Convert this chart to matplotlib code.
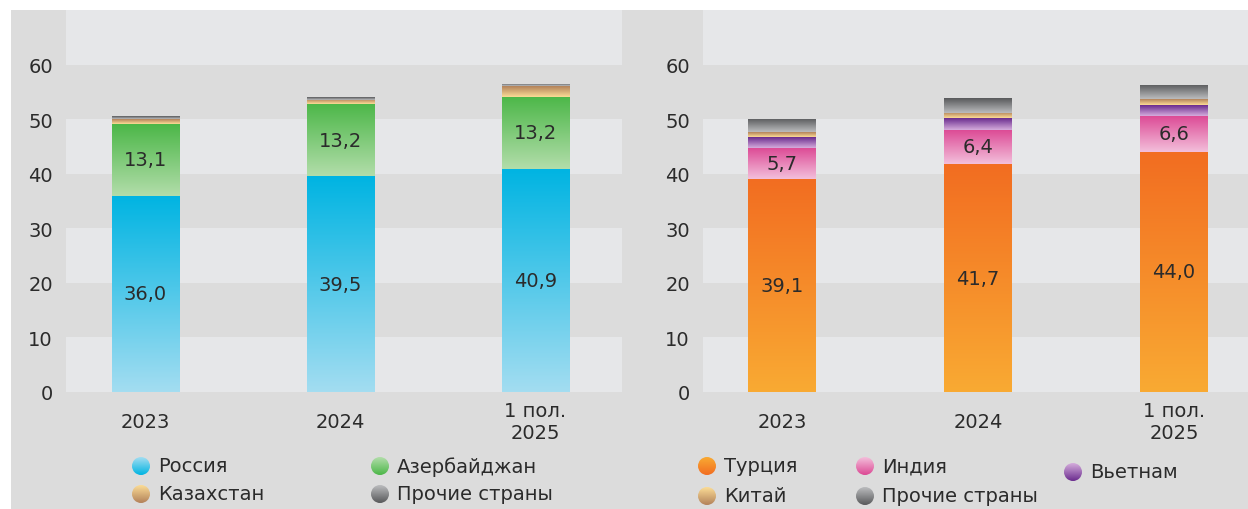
import numpy as np
import matplotlib.pyplot as plt
from matplotlib.colors import LinearSegmentedColormap
from matplotlib.patches import Rectangle, Circle

# categories
years = ["2023", "2024", "1 пол.\n2025"]

# left panel
russia = [36.0, 39.5, 40.9]
azerbaijan = [13.1, 13.2, 13.2]
kazakhstan = [0.9, 0.8, 1.9]
other_left = [0.5, 0.5, 0.5]

# right panel
turkey = [39.1, 41.7, 44.0]
india = [5.7, 6.4, 6.6]
vietnam = [2.0, 2.1, 2.0]
china = [0.8, 1.0, 1.0]
other_right = [2.5, 2.6, 2.7]

yticks = [0, 10, 20, 30, 40, 50, 60]

# (dark top, light bottom)
C_RUS = ("#00b4e2", "#a3ddf1")
C_AZE = ("#4cb748", "#b2ddaa")
C_KAZ = ("#b3825a", "#fbdc96")
C_OTH = ("#58595b", "#bbbcbe")
C_TUR = ("#f26d21", "#f9aa33")
C_IND = ("#dc4894", "#f3bfdb")
C_VIE = ("#6a2c8e", "#d5acdc")

BG = "#dcdcdc"
BAND = "#e6e7e9"
TXT = "#2b2b2b"
FS = 14

plt.rcParams['font.family'] = ['DejaVu Sans']


def gradient_fill(ax, patch, dark, light, top_dark=True):
    cmap = LinearSegmentedColormap.from_list("g", [light, dark])
    x0, y0 = patch.get_x(), patch.get_y()
    w, h = patch.get_width(), patch.get_height()
    arr = np.linspace(0, 1, 128).reshape(-1, 1)
    if not top_dark:
        arr = arr[::-1]
    im = ax.imshow(arr, cmap=cmap, origin='lower', aspect='auto',
                   extent=(x0, x0 + w, y0, y0 + h), zorder=3,
                   interpolation='bilinear')
    im.set_clip_path(patch)


def stacked_panel(ax, series, labelled, xlim):
    x = np.arange(len(years))
    bottom = np.zeros(len(years))
    for vals, colors in series:
        bars = ax.bar(x, vals, 0.345, bottom=bottom, color=colors[0], zorder=2,
                      linewidth=0)
        for b in bars:
            gradient_fill(ax, b, *colors)
        if any(vals is v for v in labelled):
            for xi, b0, v in zip(x, bottom, vals):
                ax.text(xi, b0 + v / 2, f"{v:.1f}".replace(".", ","),
                        ha='center', va='center', fontsize=FS, color=TXT, zorder=5)
        bottom = bottom + np.array(vals)

    ax.set_facecolor(BG)
    for lo in range(0, 70, 20):
        ax.axhspan(lo, lo + 10, color=BAND, zorder=0, linewidth=0)
    ax.set_xlim(*xlim)
    ax.set_ylim(0, 70)
    ax.set_yticks(yticks)
    ax.set_xticks(x)
    ax.set_xticklabels(years)
    for lbl in ax.get_xticklabels():
        lbl.set_va('center')
    ax.tick_params(axis='y', length=0, pad=9.5, labelsize=FS, labelcolor=TXT)
    ax.tick_params(axis='x', length=0, pad=21, labelsize=FS, labelcolor=TXT)
    for s in ax.spines.values():
        s.set_visible(False)


W, H = 1248, 510
fig = plt.figure(figsize=(W / 100, H / 100), dpi=100, facecolor="white")
fig.patches.append(Rectangle((11 / W, 0), 1, 1 - 11 / H, transform=fig.transFigure,
                             facecolor=BG, edgecolor='none', zorder=-10))

ax1 = fig.add_axes([66 / W, 1 - 393 / H, 556 / W, 382 / H])
stacked_panel(ax1,
              [(russia, C_RUS), (azerbaijan, C_AZE), (kazakhstan, C_KAZ), (other_left, C_OTH)],
              [russia, azerbaijan], (-0.408, 2.444))

ax2 = fig.add_axes([703 / W, 1 - 393 / H, 545 / W, 382 / H])
stacked_panel(ax2,
              [(turkey, C_TUR), (india, C_IND), (vietnam, C_VIE), (china, C_KAZ), (other_right, C_OTH)],
              [turkey, india], (-0.403, 2.378))

# legends drawn on a pixel-coordinate overlay
ov = fig.add_axes([0, 0, 1, 1], zorder=10)
ov.set_facecolor('none')
ov.axis('off')

legend_items = [
    (141, 467, "Россия", C_RUS), (380, 467, "Азербайджан", C_AZE),
    (141, 495, "Казахстан", C_KAZ), (380, 495, "Прочие страны", C_OTH),
    (707, 467, "Турция", C_TUR), (865, 467, "Индия", C_IND),
    (1073, 473, "Вьетнам", C_VIE), (707, 497, "Китай", C_KAZ),
    (865, 497, "Прочие страны", C_OTH),
]
r = 9
for lx, ly, name, (dark, light) in legend_items:
    cmap = LinearSegmentedColormap.from_list("g", [light, dark])
    im = ov.imshow(np.linspace(1, 0, 64).reshape(-1, 1), cmap=cmap, origin='lower',
                   aspect='auto', extent=(lx - r, lx + r, ly + r, ly - r),
                   interpolation='bilinear')
    circ = Circle((lx, ly), r, transform=ov.transData)
    im.set_clip_path(circ)
    ov.text(lx + 17, ly, name, ha='left', va='center', fontsize=FS, color=TXT)

ov.set_xlim(0, W)
ov.set_ylim(H, 0)

fig.savefig("out.png", dpi=100, facecolor=fig.get_facecolor())
